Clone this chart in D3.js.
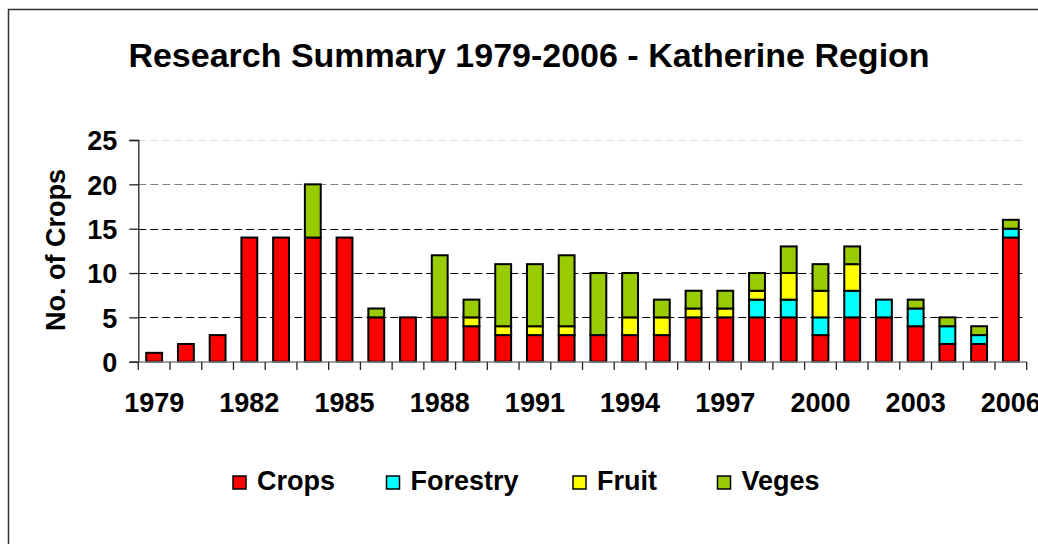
<!DOCTYPE html>
<html>
<head>
<meta charset="utf-8">
<script src="https://cdn.jsdelivr.net/npm/d3@7"></script>
<style>
  body { margin: 0; background: #fff; }
  text { font-family: "Liberation Sans", Arial, sans-serif; font-weight: bold; }
</style>
</head>
<body>
<div id="chart"></div>
<script>
// data
var years = d3.range(1979, 2007);
var crops    = [1,2,3,14,14,14,14,5,5,5,4,3,3,3,3,3,3,5,5,5,5,3,5,5,4,2,2,14];
var forestry = [0,0,0,0,0,0,0,0,0,0,0,0,0,0,0,0,0,0,0,2,2,2,3,2,2,2,1,1];
var fruit    = [0,0,0,0,0,0,0,0,0,0,1,1,1,1,0,2,2,1,1,1,3,3,3,0,0,0,0,0];
var veges    = [0,0,0,0,0,6,0,1,0,7,2,7,7,8,7,5,2,2,2,2,3,3,2,0,1,1,1,1];
var seriesNames = ['Crops', 'Forestry', 'Fruit', 'Veges'];
var colors = ['#ff0000', '#00ffff', '#ffff00', '#99cc00'];
var yTicks = [0, 5, 10, 15, 20, 25];
var xLabels = [1979, 1982, 1985, 1988, 1991, 1994, 1997, 2000, 2003, 2006];

var width = 1038,
	height = 544;

var svg = d3.select('#chart')
			.append('svg')
			.attr('width', width)
			.attr('height', height);

// outer frame (runs off the right and bottom edge)
svg.append('rect')
	.attr('x', 8.5).attr('y', 9.5)
	.attr('width', 1100).attr('height', 600)
	.attr('fill', 'none')
	.attr('stroke', '#333')
	.attr('stroke-width', 1.5);

// title
svg.append('text')
	.attr('x', 529).attr('y', 67)
	.attr('text-anchor', 'middle')
	.style('font-size', '34px')
	.text('Research Summary 1979-2006 - Katherine Region');

// scales
var x = d3.scaleBand()
		.domain(years)
		.range([138.3, 1026.7])
		.paddingInner(0.5)
		.paddingOuter(0.25);

var y = d3.scaleLinear()
		.domain([0, 25])
		.range([361.7, 140]);

// gridlines
var gridColor = {5: '#000', 10: '#000', 15: '#000', 20: '#808080', 25: '#e0e0e0'};
svg.append('g')
	.selectAll('line')
	.data(yTicks.slice(1)).enter()
	.append('line')
	.attr('x1', 138.3).attr('x2', 1024)
	.attr('y1', d => Math.round(y(d)) + 0.5)
	.attr('y2', d => Math.round(y(d)) + 0.5)
	.attr('stroke', d => gridColor[d])
	.attr('stroke-dasharray', '8,4');

// stacked bars
var rows = years.map((yr, i) => ({year: yr, Crops: crops[i], Forestry: forestry[i], Fruit: fruit[i], Veges: veges[i]}));
var stacked = d3.stack().keys(seriesNames)(rows);

svg.append('g')
	.selectAll('g')
	.data(stacked).enter()
	.append('g')
	.attr('fill', (d, i) => colors[i])
	.selectAll('rect')
	.data(d => d.filter(s => s[1] > s[0])).enter()
	.append('rect')
	.attr('x', d => x(d.data.year))
	.attr('width', x.bandwidth())
	.attr('y', d => y(d[1]))
	.attr('height', d => y(d[0]) - y(d[1]))
	.attr('stroke', '#000')
	.attr('stroke-width', 2);

// y axis
var yAxis = svg.append('g')
	.attr('transform', 'translate(138.3,0)')
	.call(d3.axisLeft(y).tickValues(yTicks).tickSize(9).tickPadding(12));
yAxis.select('.domain').attr('stroke', '#222').attr('stroke-width', 1.3);
yAxis.selectAll('line').attr('stroke', '#222').attr('stroke-width', 1.3);
yAxis.selectAll('text')
	.attr('fill', '#000')
	.style('font-size', '27px')
	.attr('dy', '0.36em');

// x axis: line, ticks between bars, labels every third year
var xg = svg.append('g');
xg.append('line')
	.attr('x1', 138.3).attr('x2', 1026.7)
	.attr('y1', 362).attr('y2', 362)
	.attr('stroke', '#808080').attr('stroke-width', 1.5);
xg.selectAll('.tick')
	.data(d3.range(years.length + 1)).enter()
	.append('line')
	.attr('x1', i => 138.3 + i * x.step())
	.attr('x2', i => 138.3 + i * x.step())
	.attr('y1', 362).attr('y2', 370)
	.attr('stroke', '#222').attr('stroke-width', 1.3);
xg.selectAll('text')
	.data(xLabels).enter()
	.append('text')
	.attr('x', d => x(d) + x.bandwidth() / 2)
	.attr('y', 412)
	.attr('text-anchor', 'middle')
	.style('font-size', '27px')
	.text(d => d);

// y axis title
svg.append('text')
	.attr('transform', 'translate(65,250) rotate(-90)')
	.attr('text-anchor', 'middle')
	.style('font-size', '27px')
	.text('No. of Crops');

// legend
var legendX = [233, 386.5, 573, 717.5];
var legend = svg.append('g')
	.selectAll('g')
	.data(seriesNames).enter()
	.append('g')
	.attr('transform', (d, i) => 'translate(' + legendX[i] + ',476)');
legend.append('rect')
	.attr('width', 13).attr('height', 13)
	.attr('fill', (d, i) => colors[i])
	.attr('stroke', '#000')
	.attr('stroke-width', 1.5);
legend.append('text')
	.attr('x', 24).attr('y', 13.5)
	.style('font-size', '27px')
	.text(d => d);
</script>
</body>
</html>
